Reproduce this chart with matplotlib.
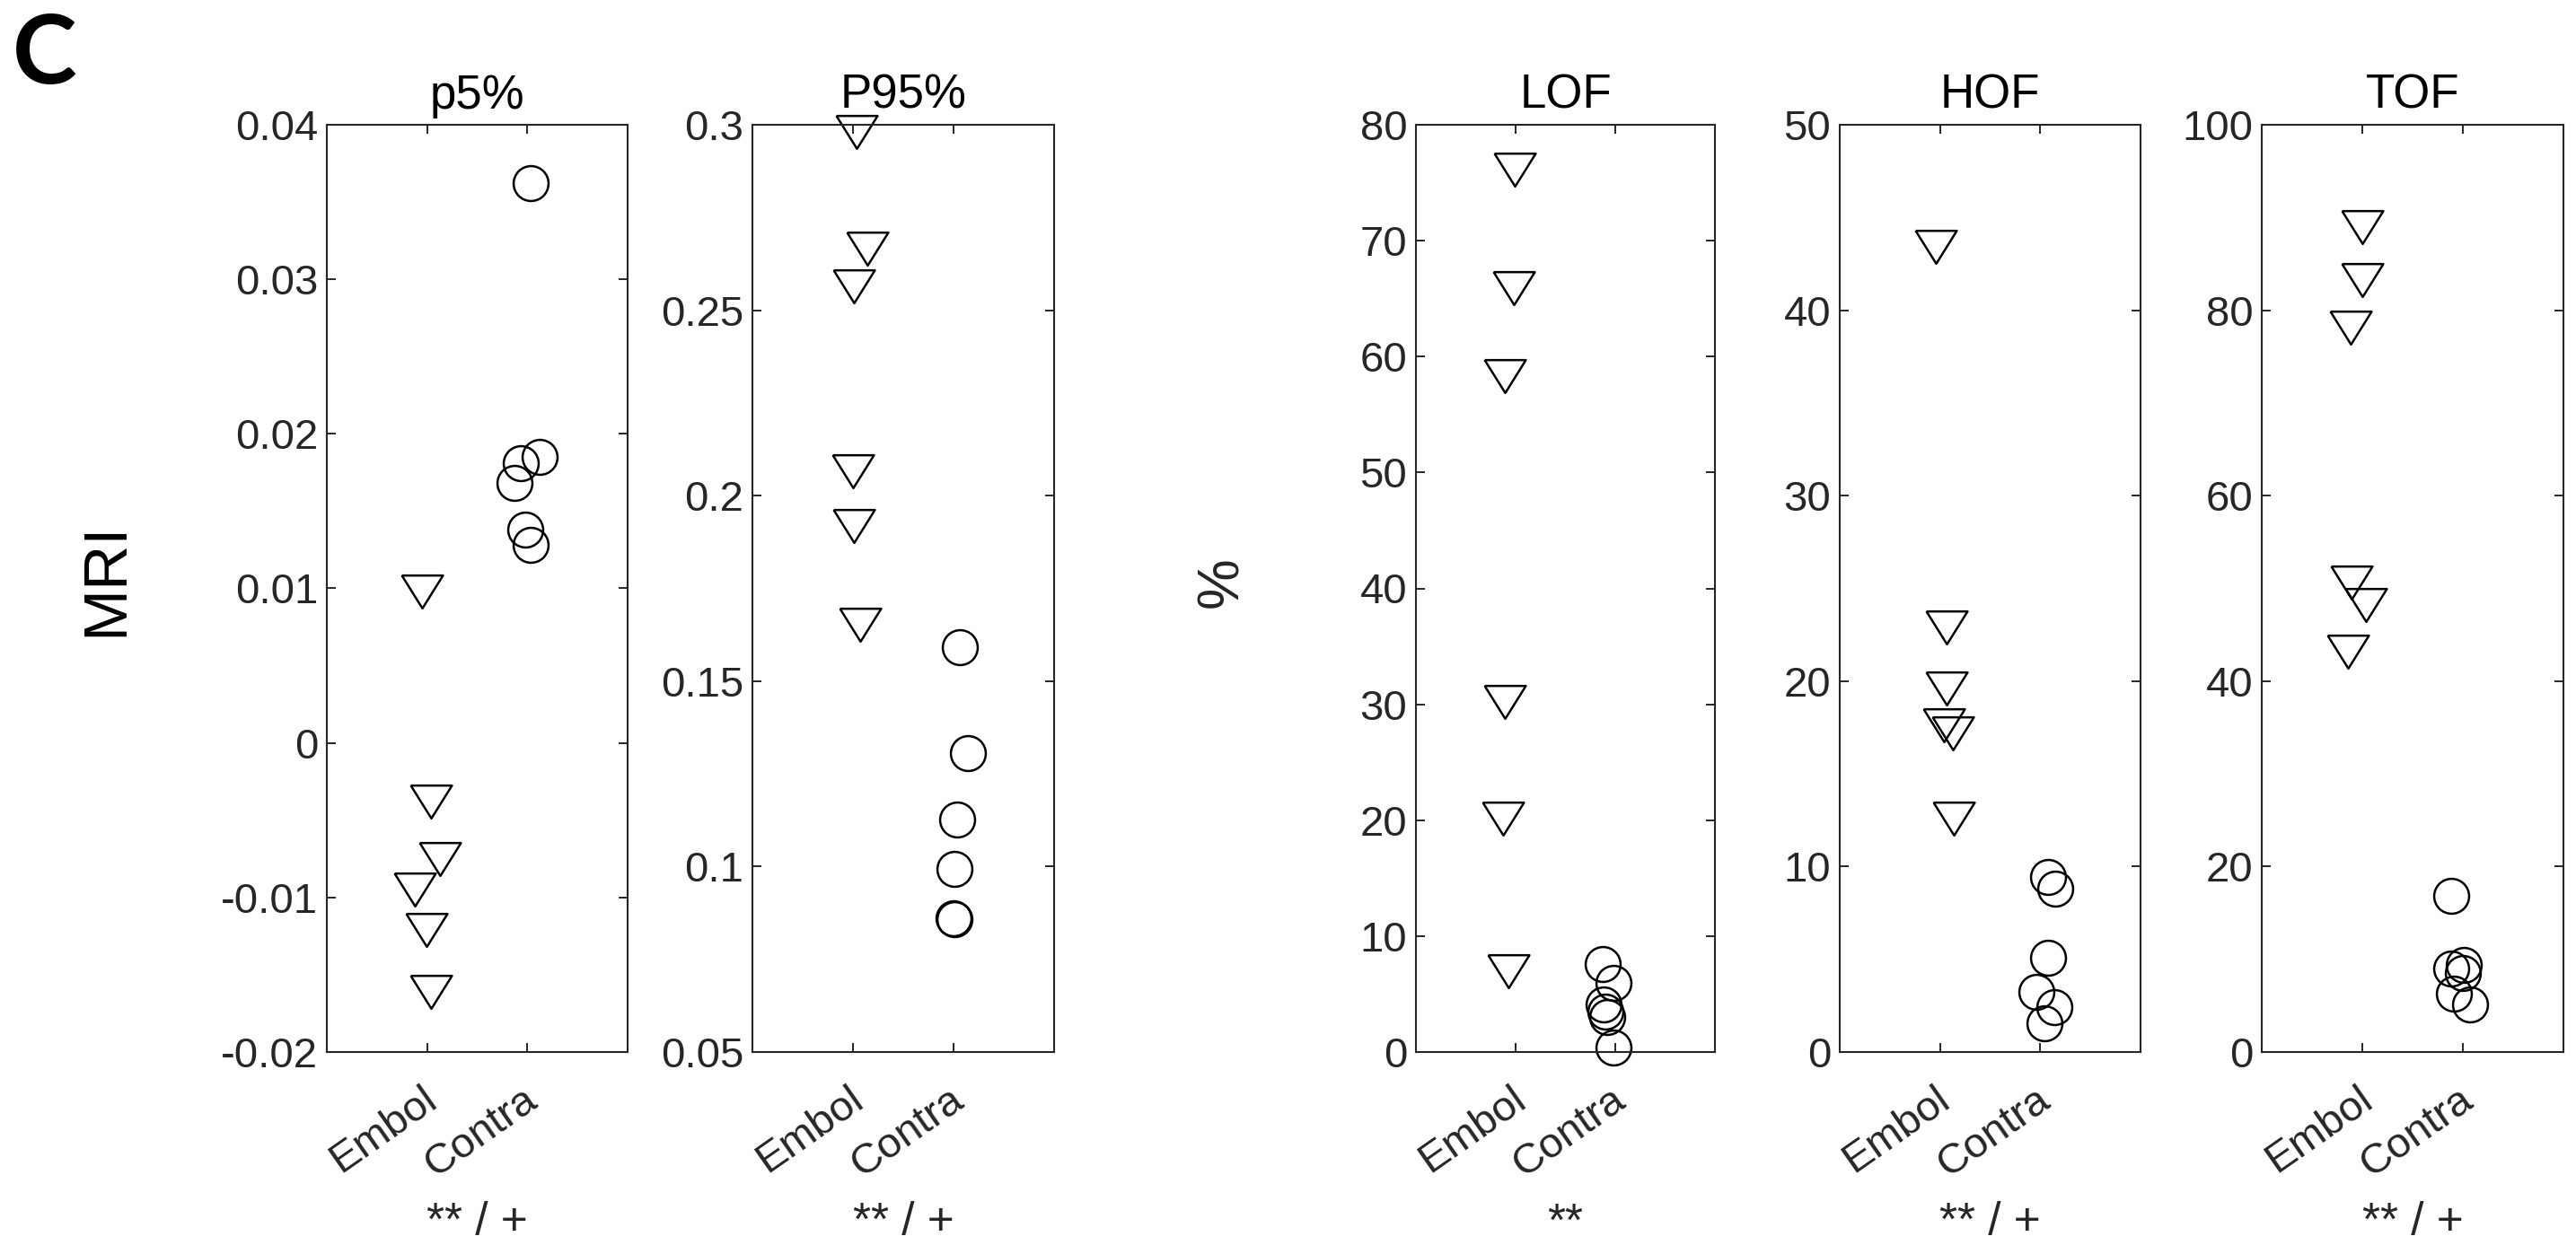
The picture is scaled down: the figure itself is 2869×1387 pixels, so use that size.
import matplotlib
matplotlib.use("Agg")
import matplotlib.pyplot as plt
import matplotlib.transforms as mtransforms
import numpy as np

plt.rcParams['font.family'] = ['Liberation Sans', 'DejaVu Sans']

W, H = 2869, 1387
DPI = 100

groups = ['Embol', 'Contra']
titles = ['p5%', 'P95%', 'LOF', 'HOF', 'TOF']
stats = ['** / +', '** / +', '**', '** / +', '** / +']

# embolized side (triangles)
p5_embol_x = [0.95, 1.04, 1.13, 0.88, 0.99, 1.04]
p5_embol_y = [0.0098, -0.0038, -0.0075, -0.0095, -0.0121, -0.0161]
p95_embol_x = [1.04, 1.14, 1.01, 1.00, 1.01, 1.07]
p95_embol_y = [0.298, 0.2665, 0.2565, 0.2066, 0.1917, 0.1653]
lof_embol_x = [0.99, 0.98, 0.89, 0.89, 0.87, 0.93]
lof_embol_y = [76.1, 65.9, 58.3, 30.2, 20.1, 6.97]
hof_embol_x = [0.96, 1.07, 1.07, 1.04, 1.13, 1.14]
hof_embol_y = [43.4, 22.9, 19.6, 17.6, 17.2, 12.6]
tof_embol_x = [1.00, 1.00, 0.88, 0.89, 1.04, 0.86]
tof_embol_y = [89.0, 83.3, 78.1, 50.6, 48.2, 43.2]

# contralateral side (circles)
p5_contra_x = [2.03, 2.12, 1.93, 1.87, 1.98, 2.03]
p5_contra_y = [0.0362, 0.0185, 0.0181, 0.0168, 0.0138, 0.0128]
p95_contra_x = [2.06, 2.14, 2.04, 2.01, 2.00, 2.01]
p95_contra_y = [0.1592, 0.1307, 0.1127, 0.0994, 0.0860, 0.0857]
lof_contra_x = [1.87, 1.98, 1.88, 1.90, 1.92, 1.98]
lof_contra_y = [7.6, 6.0, 4.1, 3.5, 3.0, 0.4]
hof_contra_x = [2.08, 2.15, 2.08, 1.96, 2.14, 2.04]
hof_contra_y = [9.43, 8.79, 5.08, 3.23, 2.42, 1.53]
tof_contra_x = [1.88, 2.01, 1.88, 2.00, 1.91, 2.07]
tof_contra_y = [16.84, 9.36, 9.04, 8.55, 6.29, 5.16]

p5_ticks = [-0.02, -0.01, 0, 0.01, 0.02, 0.03, 0.04]
p5_labels = ['-0.02', '-0.01', '0', '0.01', '0.02', '0.03', '0.04']
p95_ticks = [0.05, 0.1, 0.15, 0.2, 0.25, 0.3]
p95_labels = ['0.05', '0.1', '0.15', '0.2', '0.25', '0.3']
lof_ticks = [0, 10, 20, 30, 40, 50, 60, 70, 80]
hof_ticks = [0, 10, 20, 30, 40, 50]
tof_ticks = [0, 20, 40, 60, 80, 100]

embol_x = [p5_embol_x, p95_embol_x, lof_embol_x, hof_embol_x, tof_embol_x]
embol_y = [p5_embol_y, p95_embol_y, lof_embol_y, hof_embol_y, tof_embol_y]
contra_x = [p5_contra_x, p95_contra_x, lof_contra_x, hof_contra_x, tof_contra_x]
contra_y = [p5_contra_y, p95_contra_y, lof_contra_y, hof_contra_y, tof_contra_y]
yticks = [p5_ticks, p95_ticks, lof_ticks, hof_ticks, tof_ticks]
ylabels = [p5_labels, p95_labels,
           [str(t) for t in lof_ticks], [str(t) for t in hof_ticks],
           [str(t) for t in tof_ticks]]

# axes boxes in pixels (left, right)
boxes = [(364, 699), (838, 1174), (1577, 1910), (2049, 2384), (2519, 2855)]
top_px, bot_px = 139, 1172

# MATLAB style down-pointing triangle, wider than tall
tri = [(-1, 0.8), (1, 0.8), (0, -0.8), (-1, 0.8)]

axcol = '#262626'
fig = plt.figure(figsize=(W / DPI, H / DPI), dpi=DPI)
shift = mtransforms.ScaledTranslation(-6 / DPI, 0, fig.dpi_scale_trans)

for i in range(5):
    l, r = boxes[i]
    ax = fig.add_axes([l / W, 1 - bot_px / H, (r - l) / W, (bot_px - top_px) / H])
    ax.plot(embol_x[i], embol_y[i], linestyle='none', marker=tri, ms=33,
            mfc='none', mec='black', mew=1.8, clip_on=False)
    ax.plot(contra_x[i], contra_y[i], linestyle='none', marker='o', ms=28,
            mfc='none', mec='black', mew=1.8, clip_on=False)
    ax.set_xlim(0, 3)
    ax.set_ylim(yticks[i][0], yticks[i][-1])
    ax.set_yticks(yticks[i])
    ax.set_yticklabels(ylabels[i])
    ax.set_xticks([1, 2])
    ax.set_xticklabels(groups, rotation=35, ha='right', rotation_mode='anchor')
    ax.tick_params(direction='in', length=7.2, width=1.4, color=axcol,
                   labelsize=34, labelcolor=axcol, top=True, right=True)
    ax.tick_params(axis='y', pad=7)
    ax.tick_params(axis='x', pad=22)
    for lab in ax.get_xticklabels():
        lab.set_transform(lab.get_transform() + shift)
    for sp in ax.spines.values():
        sp.set_color(axcol)
        sp.set_linewidth(1.5)
    ax.set_title(titles[i], fontsize=38, pad=13, color='black')
    fig.text((l + r) / 2 / W, 1 - 1363 / H, stats[i], fontsize=37,
             color=axcol, ha='center', va='center')

fig.text(118 / W, 1 - 645 / H, 'MRI', fontsize=50, rotation=90,
         ha='center', va='center', color='black')
fig.text(1361 / W, 1 - 649 / H, '%', fontsize=46, rotation=90,
         ha='center', va='center', color=axcol)
fig.text(50 / W, 1 - 62 / H, 'C', fontsize=78, fontweight='bold',
         family=['Lato', 'DejaVu Sans'], ha='center', va='center')

fig.savefig('out.png', dpi=DPI)
